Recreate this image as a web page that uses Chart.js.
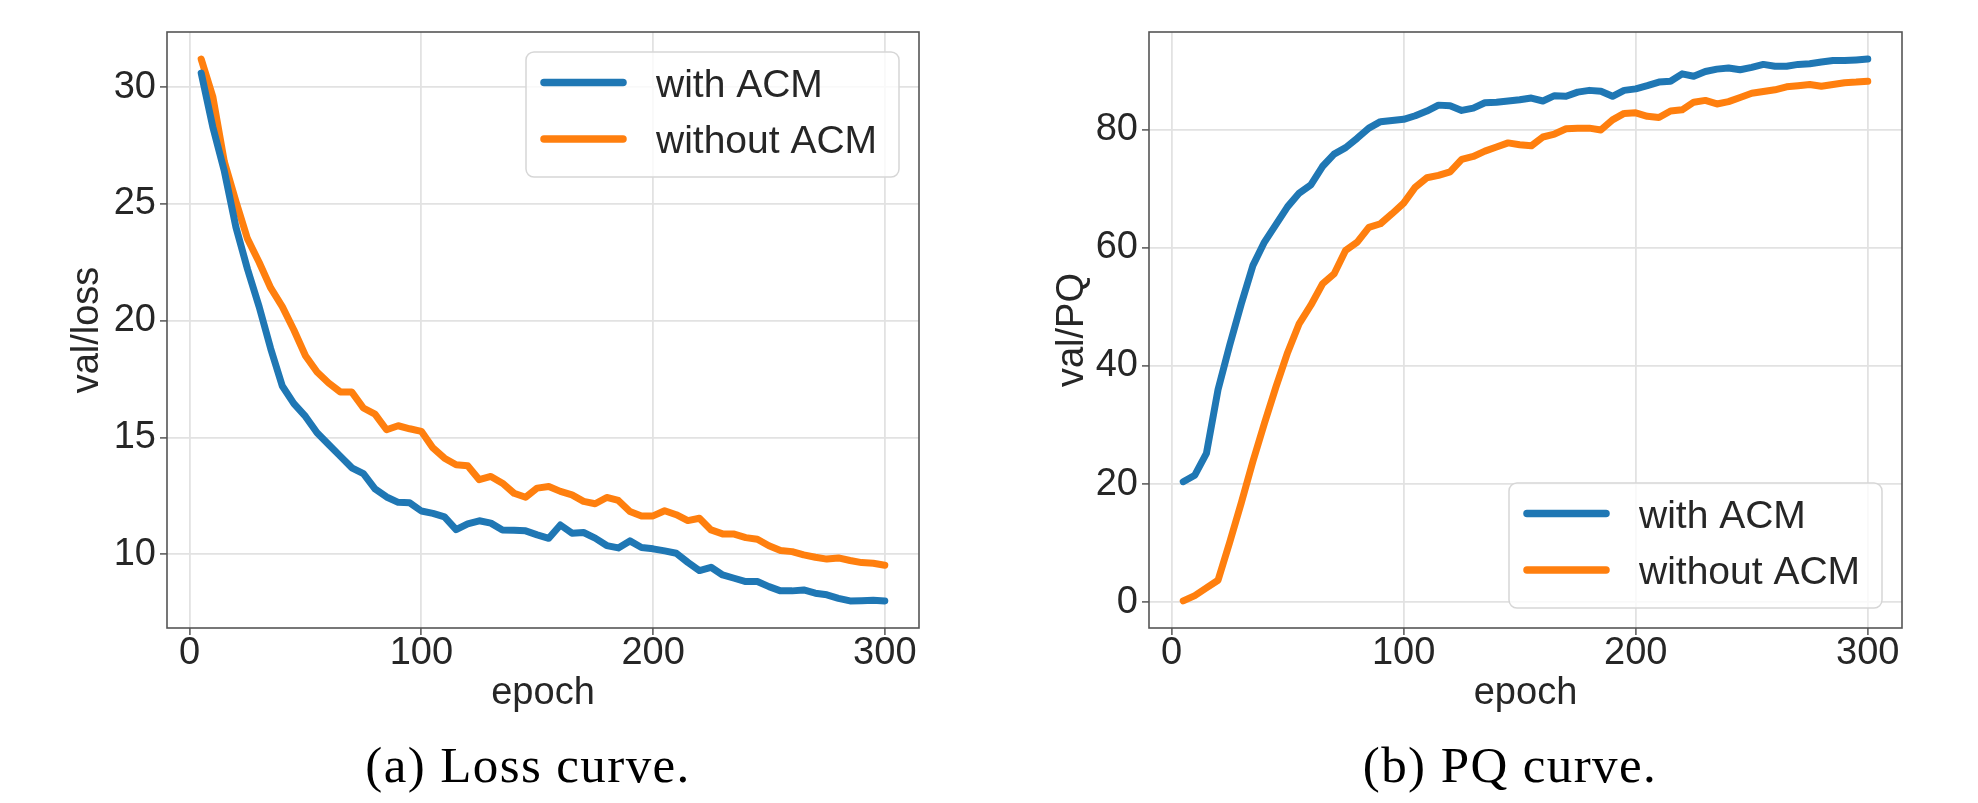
<!DOCTYPE html>
<html><head><meta charset="utf-8">
<script src="https://cdn.jsdelivr.net/npm/chart.js@4/dist/chart.umd.min.js"></script>
<style>
html,body{margin:0;padding:0;background:#fff;width:1978px;height:803px;overflow:hidden}
#c1{position:absolute;left:0;top:0}
#c2{position:absolute;left:989px;top:0}
.cap{position:absolute;font-family:"Liberation Serif","DejaVu Serif",serif;font-size:51px;line-height:50px;letter-spacing:1.4px;color:#000;white-space:nowrap;transform:translateX(-50%)}
</style></head><body>
<canvas id="c1" width="989" height="740"></canvas>
<canvas id="c2" width="989" height="740"></canvas>
<div class="cap" style="left:528px;top:740px">(a) Loss curve.</div>
<div class="cap" style="left:1510px;top:740px">(b) PQ curve.</div>
<script>
// ---- data ----
const epochs = [5,10,15,20,25,30,35,40,45,50,55,60,65,70,75,80,85,90,95,100,
  105,110,115,120,125,130,135,140,145,150,155,160,165,170,175,180,185,190,195,200,
  205,210,215,220,225,230,235,240,245,250,255,260,265,270,275,280,285,290,295,300];
const seriesLabels = ['with ACM', 'without ACM'];

const lossWithACM = [30.6,28.3,26.4,24.0,22.2,20.6,18.8,17.2,16.45,15.9,15.2,14.7,14.2,13.7,13.45,12.8,12.45,12.22,12.2,11.85,
  11.75,11.6,11.05,11.3,11.43,11.33,11.04,11.03,11.0,10.83,10.68,11.25,10.9,10.93,10.69,10.37,10.27,10.57,10.29,10.23,
  10.14,10.04,9.65,9.3,9.44,9.11,8.97,8.83,8.83,8.61,8.43,8.43,8.47,8.33,8.26,8.11,8.0,8.01,8.03,8.0];
const lossWithoutACM = [31.2,29.6,26.8,25.1,23.5,22.5,21.4,20.6,19.6,18.5,17.8,17.33,16.95,16.94,16.26,16.0,15.33,15.5,15.37,15.26,
  14.55,14.11,13.83,13.79,13.19,13.33,13.04,12.61,12.44,12.83,12.9,12.69,12.54,12.26,12.16,12.43,12.3,11.83,11.64,11.64,
  11.86,11.69,11.44,11.54,11.04,10.87,10.86,10.71,10.64,10.36,10.16,10.11,9.97,9.87,9.79,9.84,9.73,9.64,9.61,9.53];

const pqWithACM = [20.4,21.5,25.2,36.0,43.5,50.5,57.0,61.0,64.0,67.0,69.3,70.7,73.8,75.9,77.0,78.6,80.3,81.4,81.6,81.8,
  82.4,83.2,84.2,84.1,83.3,83.7,84.6,84.7,84.9,85.1,85.4,84.9,85.8,85.7,86.4,86.7,86.55,85.7,86.7,86.95,
  87.5,88.1,88.25,89.5,89.1,89.9,90.3,90.5,90.2,90.6,91.1,90.8,90.8,91.1,91.2,91.5,91.75,91.75,91.86,92.0];
const pqWithoutACM = [0.2,1.1,2.4,3.7,10.1,16.8,23.8,30.3,36.5,42.3,47.2,50.3,53.9,55.6,59.6,61.0,63.5,64.1,65.8,67.6,
  70.3,71.9,72.3,72.9,75.0,75.5,76.4,77.1,77.8,77.5,77.3,78.8,79.3,80.2,80.3,80.3,80.0,81.7,82.8,82.9,
  82.3,82.1,83.2,83.4,84.7,85.0,84.4,84.8,85.5,86.2,86.5,86.8,87.3,87.5,87.7,87.4,87.7,88.0,88.1,88.25];

const xTickValues = [0,100,200,300];
const lossTickValues = [10,15,20,25,30];
const pqTickValues = [0,20,40,60,80];

// ---- styles ----
const BLUE = '#1f77b4', ORANGE = '#ff7f0e';
const TEXT = '#262626';
const FONT = '"Liberation Sans", Arial, sans-serif';

const framePlugin = {
  id: 'frame',
  afterDatasetsDraw(chart) {
    const {ctx, chartArea: a} = chart;
    ctx.save();
    ctx.strokeStyle = '#555555';
    ctx.lineWidth = 1.6;
    ctx.strokeRect(a.left, a.top, a.right - a.left, a.bottom - a.top);
    ctx.restore();
  }
};

const legendPlugin = {
  id: 'insideLegend',
  afterDraw(chart, args, opts) {
    const {ctx, chartArea: a} = chart;
    const w = 373, h = 125, inset = 20, r = 8;
    const x = a.right - inset - w;
    const y = opts.corner === 'top' ? a.top + inset : a.bottom - inset - h;
    ctx.save();
    ctx.beginPath();
    ctx.moveTo(x + r, y);
    ctx.arcTo(x + w, y, x + w, y + h, r);
    ctx.arcTo(x + w, y + h, x, y + h, r);
    ctx.arcTo(x, y + h, x, y, r);
    ctx.arcTo(x, y, x + w, y, r);
    ctx.closePath();
    ctx.fillStyle = 'rgba(255,255,255,0.8)';
    ctx.fill();
    ctx.strokeStyle = '#d6d6d6';
    ctx.lineWidth = 1.5;
    ctx.stroke();
    chart.data.datasets.forEach((ds, i) => {
      const cy = y + 30.5 + i * 56.5;
      ctx.strokeStyle = ds.borderColor;
      ctx.lineWidth = 7.5;
      ctx.lineCap = 'round';
      ctx.beginPath();
      ctx.moveTo(x + 18, cy);
      ctx.lineTo(x + 97, cy);
      ctx.stroke();
      ctx.fillStyle = TEXT;
      ctx.font = '39px ' + FONT;
      ctx.textBaseline = 'alphabetic';
      ctx.textAlign = 'left';
      ctx.fillText(ds.label, x + 130, cy + 14);
    });
    ctx.restore();
  }
};

function makeChart(id, cfg) {
  const mk = (vals) => epochs.map((e, i) => ({x: e, y: vals[i]}));
  return new Chart(document.getElementById(id), {
    type: 'line',
    data: {
      datasets: [
        {label: seriesLabels[0], data: mk(cfg.a), borderColor: BLUE, backgroundColor: BLUE},
        {label: seriesLabels[1], data: mk(cfg.b), borderColor: ORANGE, backgroundColor: ORANGE}
      ].map(d => Object.assign(d, {borderWidth: 7, pointRadius: 0, tension: 0, fill: false,
        borderCapStyle: 'round', borderJoinStyle: 'round'}))
    },
    options: {
      responsive: false, animation: false, devicePixelRatio: 1,
      layout: {padding: {left: cfg.padL, top: 32, right: cfg.padR, bottom: 0}},
      plugins: {legend: {display: false}, tooltip: {enabled: false}, insideLegend: {corner: cfg.corner}},
      scales: {
        x: {
          type: 'linear', min: -9.75, max: 314.75,
          afterBuildTicks: s => { s.ticks = xTickValues.map(v => ({value: v})); },
          afterFit: s => { s.height = 740 - 628; },
          ticks: {font: {size: 38, family: FONT}, color: TEXT, padding: -4, maxRotation: 0, autoSkip: false,
            callback: v => String(v)},
          grid: {color: '#e2e2e2', lineWidth: 1.8, tickLength: 7, tickColor: '#555555', tickWidth: 1.5},
          border: {display: false},
          title: {display: true, text: 'epoch', color: TEXT, font: {size: 38, family: FONT}, padding: {top: 0, bottom: 24}}
        },
        y: {
          type: 'linear', min: cfg.min, max: cfg.max,
          afterBuildTicks: s => { s.ticks = cfg.ticks.map(v => ({value: v})); },
          afterFit: s => { s.width = cfg.yw; },
          ticks: {font: {size: 38, family: FONT}, color: TEXT, padding: 4, callback: v => String(v)},
          grid: {color: '#e2e2e2', lineWidth: 1.8, tickLength: 7, tickColor: '#555555', tickWidth: 1.5},
          border: {display: false},
          title: {display: true, text: cfg.ytitle, color: TEXT, font: {size: 38, family: FONT}, padding: 0}
        }
      }
    },
    plugins: [framePlugin, legendPlugin]
  });
}

makeChart('c1', {a: lossWithACM, b: lossWithoutACM, min: 6.84, max: 32.36, ticks: lossTickValues,
  ytitle: 'val/loss', padL: 65, yw: 102, padR: 70, corner: 'top'});
makeChart('c2', {a: pqWithACM, b: pqWithoutACM, min: -4.39, max: 96.59, ticks: pqTickValues,
  ytitle: 'val/PQ', padL: 61, yw: 99, padR: 76, corner: 'bottom'});
</script>
</body></html>
